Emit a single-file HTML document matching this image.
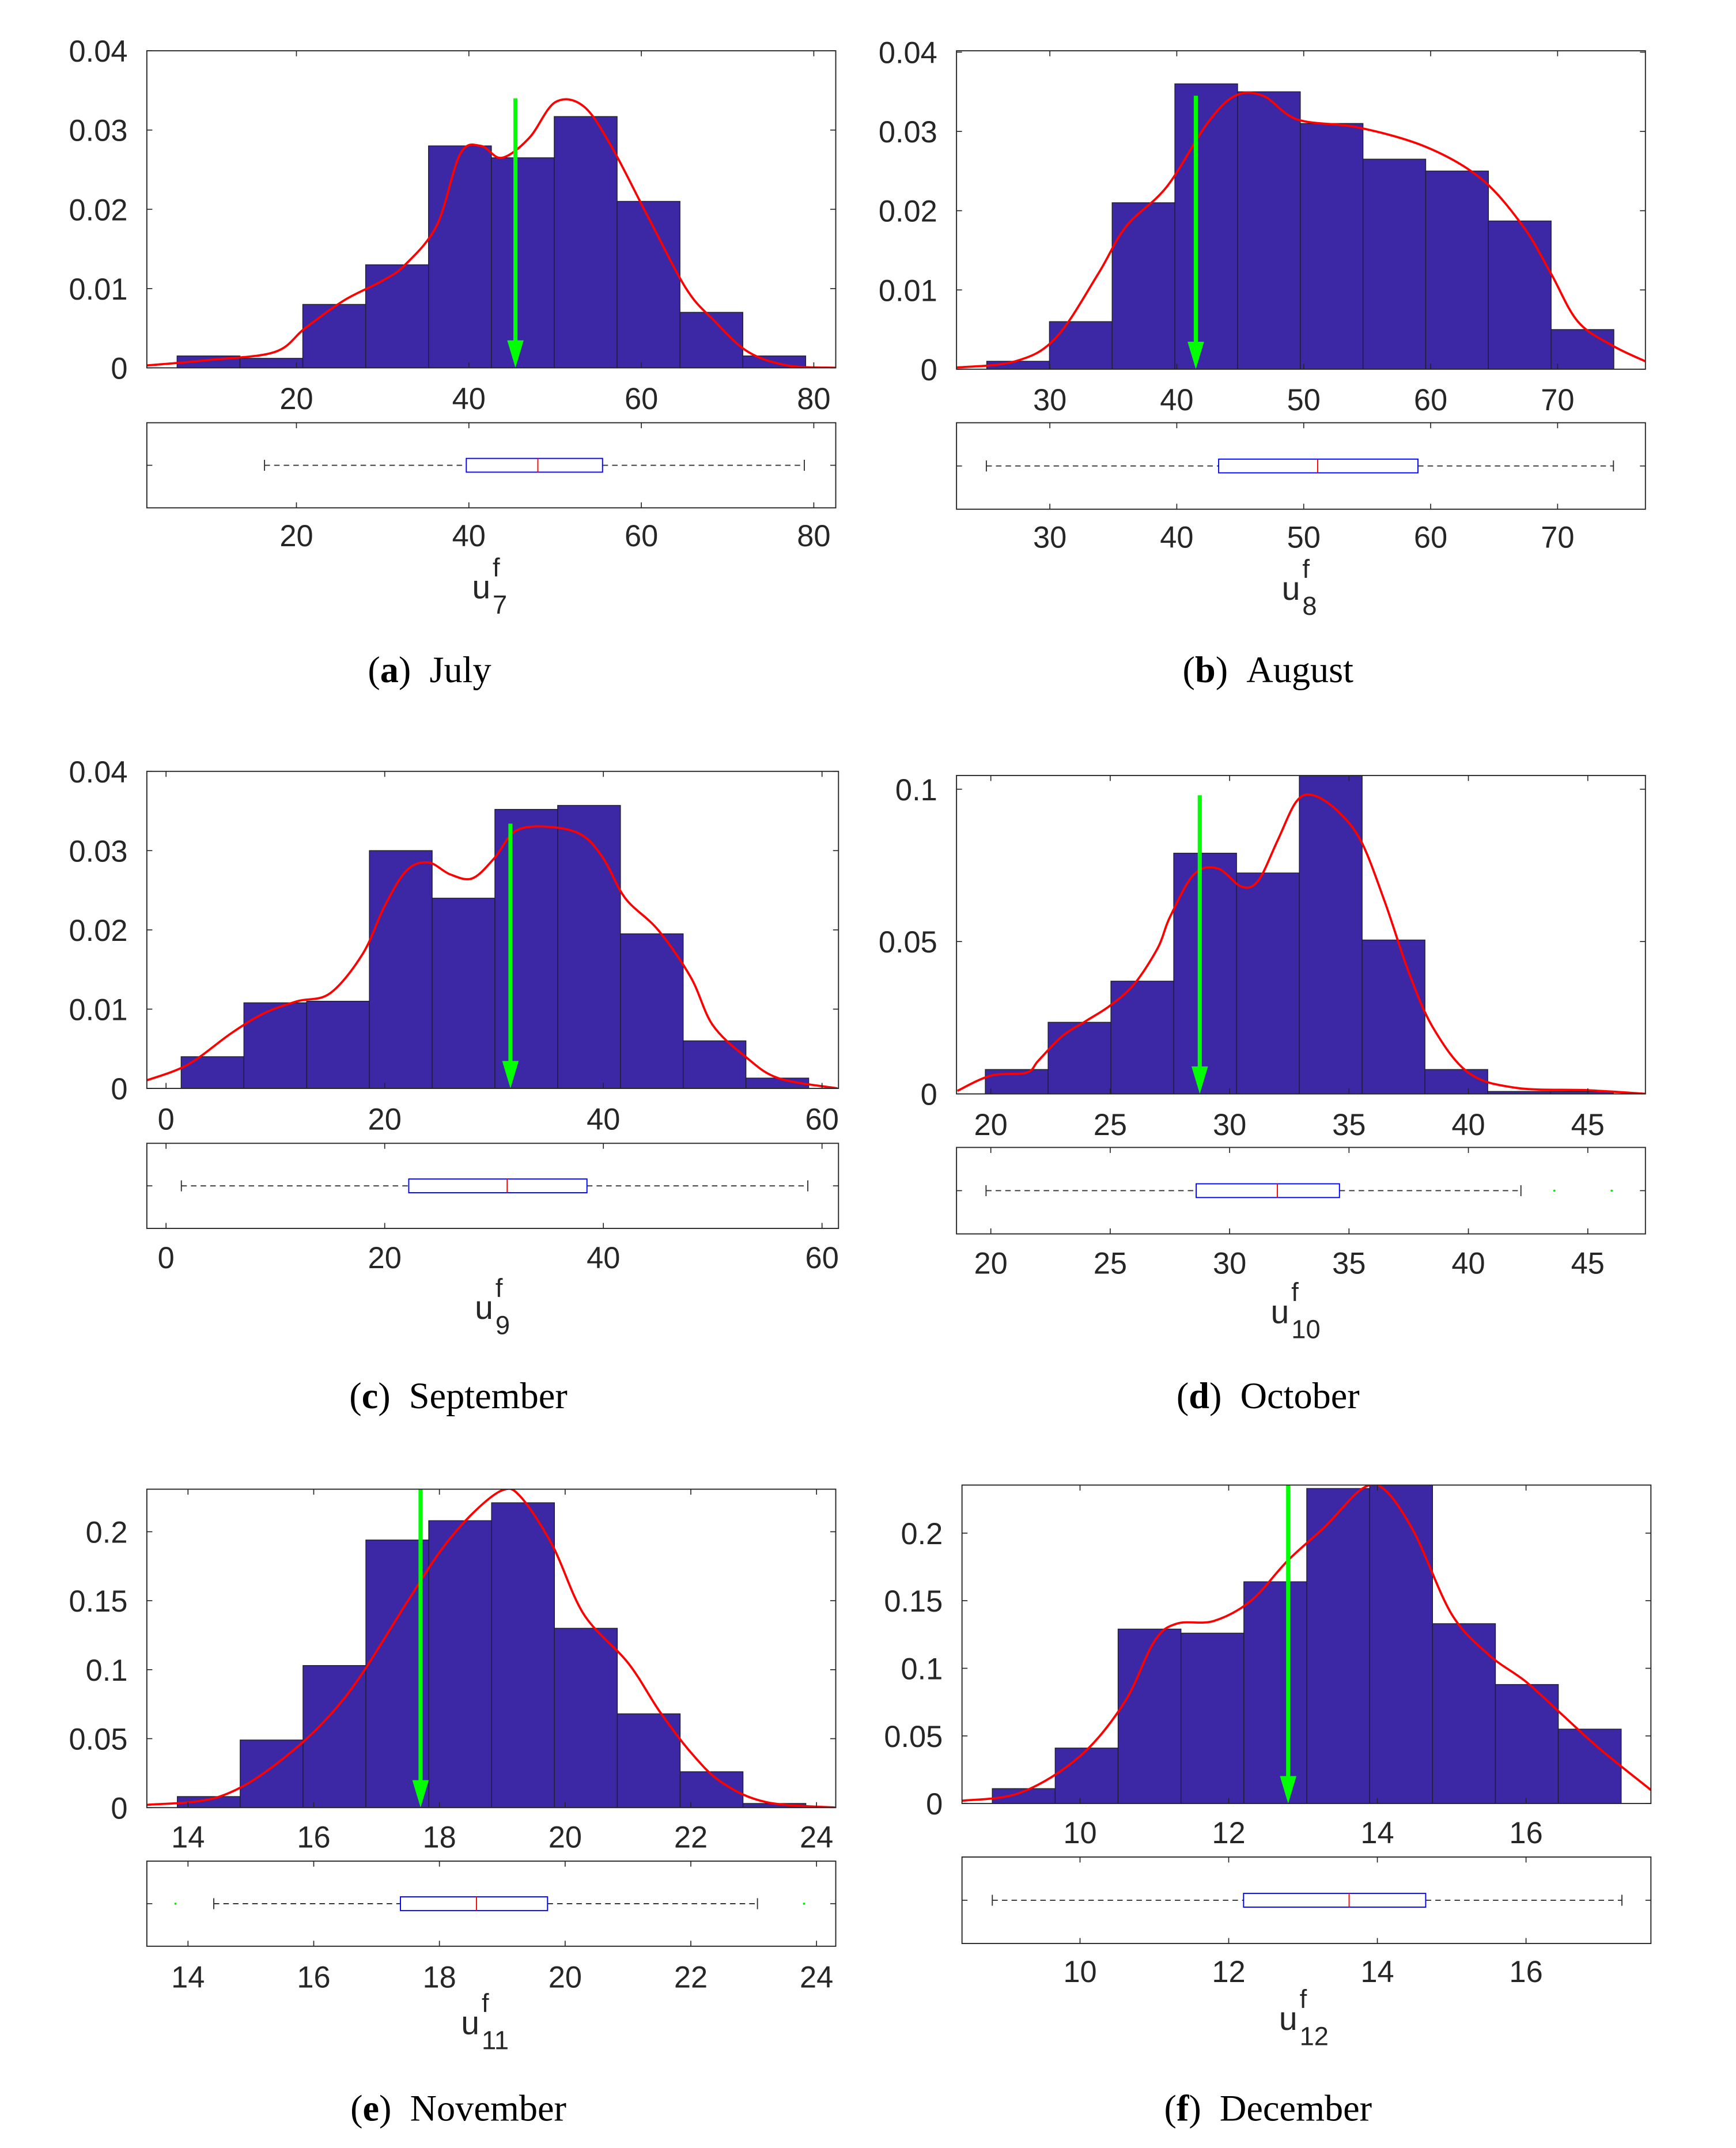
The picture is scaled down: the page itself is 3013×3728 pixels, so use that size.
<!DOCTYPE html>
<html><head><meta charset="utf-8">
<style>
html,body{margin:0;padding:0;background:#fff;}
svg{display:block;}
.tk{font-family:"Liberation Sans Narrow","Liberation Sans",sans-serif;font-size:22px;fill:#262626;}
.cap{font-family:"Liberation Serif",serif;font-size:27px;fill:#000;}
</style></head>
<body>
<svg id="fig" xmlns="http://www.w3.org/2000/svg" width="3013" height="3728" viewBox="0 0 1265 1565" preserveAspectRatio="none"></svg>
<script>
// ---------- data: (a) July ----------
const julyBinStart = 6.16, julyBinWidth = 7.29;
const julyHeights = [0.0015,0.0012,0.008,0.013,0.028,0.0265,0.0317,0.021,0.007,0.0015];
const julyKdeX = [2.6,10,17.5,21,25.5,30,32.6,36.3,39,41.4,43.8,47,50,53.3,56.5,60.8,65.2,68.4,72.4,77,82.6];
const julyKdeY = [0.0003,0.001,0.002,0.005,0.0085,0.011,0.013,0.018,0.027,0.028,0.0265,0.029,0.0335,0.033,0.028,0.019,0.01,0.006,0.002,0.0003,0];
const julyBox = [16.3,39.7,48,55.5,78.9];
const julyObs = 45.4, julyObsTop = 0.034;
const julyXTicks = [20,40,60,80];
const julyYTicks = [0,0.01,0.02,0.03,0.04];
// ---------- (b) August ----------
const augBinStart = 25.03, augBinWidth = 4.94;
const augHeights = [0.001,0.006,0.021,0.036,0.035,0.031,0.0265,0.025,0.0187,0.005];
const augKdeX = [22.6,27.3,30.5,33.8,36,39.2,42.4,44.6,46.8,49.5,54.3,59.7,64,67.3,69.5,71.6,74.3,76.9];
const augKdeY = [0.0002,0.001,0.004,0.012,0.018,0.023,0.031,0.0345,0.0345,0.0315,0.0305,0.028,0.024,0.018,0.012,0.006,0.003,0.001];
const augBox = [25.0,43.3,51.1,59.0,74.4];
const augObs = 41.5, augObsTop = 0.0345;
const augXTicks = [30,40,50,60,70];
const augYTicks = [0,0.01,0.02,0.03,0.04];
// ---------- (c) September ----------
const sepBinStart = 1.38, sepBinWidth = 5.74;
const sepHeights = [0.004,0.0108,0.011,0.030,0.024,0.0352,0.0357,0.0195,0.006,0.0013];
const sepKdeX = [-1.8,2,6,9,12,15,18,20,22,24,26,28,30,32,35,38,40,42,45,48,50,53,56,61.4];
const sepKdeY = [0.001,0.003,0.007,0.0095,0.011,0.012,0.017,0.023,0.0275,0.0285,0.027,0.0265,0.029,0.0325,0.033,0.032,0.029,0.024,0.02,0.014,0.008,0.004,0.0013,0];
const sepBox = [1.4,22.2,31.2,38.5,58.7];
const sepObs = 31.5, sepObsTop = 0.0334;
const sepXTicks = [0,20,40,60];
const sepYTicks = [0,0.01,0.02,0.03,0.04];
// ---------- (d) October ----------
const octBinStart = 19.77, octBinWidth = 2.63;
const octHeights = [0.008,0.0235,0.037,0.079,0.0725,0.1045,0.0505,0.008,0.0008,0.0008];
const octKdeX = [18.6,20,21.5,22,23,24,25,26,27,27.5,28.5,29.5,30.5,31.2,32,32.8,33.5,34.5,35.5,36.5,37.5,38.5,40,42,45,47.5];
const octKdeY = [0.001,0.006,0.007,0.011,0.019,0.024,0.029,0.036,0.048,0.058,0.072,0.074,0.068,0.07,0.083,0.096,0.098,0.093,0.083,0.063,0.04,0.022,0.007,0.002,0.0012,0];
const octBox = [19.8,28.6,32.0,34.6,42.2];
const octObs = 28.75, octObsTop = 0.098;
const octXTicks = [20,25,30,35,40,45];
const octYTicks = [0,0.05,0.1];
// ---------- (e) November ----------
const novBinStart = 13.83, novBinWidth = 1.0;
const novHeights = [0.008,0.049,0.103,0.194,0.208,0.221,0.13,0.068,0.026,0.003];
const novKdeX = [13.35,14.5,15.5,16.5,17.5,18,18.5,19,19.3,19.8,20.3,21,21.5,22,22.5,23.2,24.3];
const novKdeY = [0.002,0.008,0.035,0.08,0.15,0.185,0.212,0.23,0.225,0.19,0.14,0.105,0.07,0.04,0.018,0.004,0];
const novBox = [14.41,17.38,18.59,19.72,23.06];
const novObs = 17.7, novObsTop = 0.231;
const novXTicks = [14,16,18,20,22,24];
const novYTicks = [0,0.05,0.1,0.15,0.2];
// ---------- (f) December ----------
const decBinStart = 8.82, decBinWidth = 0.846;
const decHeights = [0.011,0.041,0.129,0.126,0.164,0.233,0.236,0.133,0.088,0.055];
const decKdeX = [8.41,9.2,10,10.6,11,11.3,11.8,12.3,12.8,13.3,13.8,14.1,14.5,15,15.5,16,16.5,17,17.68];
const decKdeY = [0.002,0.008,0.035,0.075,0.12,0.133,0.135,0.15,0.18,0.205,0.233,0.232,0.2,0.14,0.11,0.09,0.065,0.04,0.01];
const decBox = [8.82,12.2,13.62,14.65,17.29];
const decObs = 12.8, decObsTop = 0.236;
const decXTicks = [10,12,14,16];
const decYTicks = [0,0.05,0.1,0.15,0.2];

const NS = "http://www.w3.org/2000/svg";
const svg = document.getElementById('fig');
function mk(tag, attrs, parent){
  const e = document.createElementNS(NS, tag);
  for (const k in attrs) e.setAttribute(k, attrs[k]);
  (parent||svg).appendChild(e);
  return e;
}
function fmt(v){ return String(+v.toFixed(3)); }
function smooth(P){
  let d = 'M' + P[0][0].toFixed(1) + ',' + P[0][1].toFixed(1);
  for (let i = 0; i < P.length-1; i++){
    const p0 = P[Math.max(0,i-1)], p1 = P[i], p2 = P[i+1], p3 = P[Math.min(P.length-1,i+2)];
    const c1x = p1[0] + (p2[0]-p0[0])/6, c1y = p1[1] + (p2[1]-p0[1])/6;
    const c2x = p2[0] - (p3[0]-p1[0])/6, c2y = p2[1] - (p3[1]-p1[1])/6;
    d += ' C' + c1x.toFixed(1)+','+c1y.toFixed(1)+' '+c2x.toFixed(1)+','+c2y.toFixed(1)+' '+p2[0].toFixed(1)+','+p2[1].toFixed(1);
  }
  return d;
}

const panels = [
 {id:'july', lab:'a', name:'July', sub:'7', bs:julyBinStart, bw:julyBinWidth, h:julyHeights, kx:julyKdeX, ky:julyKdeY, box:julyBox, obs:julyObs, obsTop:julyObsTop, xt:julyXTicks, yt:julyYTicks,
  L:107,R:609,T:37,B:268, xA:[20,216], xB:[80,593], yTopVal:0.04, bT:308,bB:370, xlY:290, bxlY:390, uX:344, uY:430, capX:313, capY:488, outl:[]},
 {id:'august', lab:'b', name:'August', sub:'8', bs:augBinStart, bw:augBinWidth, h:augHeights, kx:augKdeX, ky:augKdeY, box:augBox, obs:augObs, obsTop:augObsTop, xt:augXTicks, yt:augYTicks,
  L:697,R:1199,T:37,B:269, xA:[30,765], xB:[70,1135], yTopVal:0.04*(269-37)/(269-38), bT:308,bB:371, xlY:291, bxlY:391, uX:934, uY:431, capX:924, capY:488, outl:[]},
 {id:'september', lab:'c', name:'September', sub:'9', bs:sepBinStart, bw:sepBinWidth, h:sepHeights, kx:sepKdeX, ky:sepKdeY, box:sepBox, obs:sepObs, obsTop:sepObsTop, xt:sepXTicks, yt:sepYTicks,
  L:107,R:611,T:562,B:793, xA:[0,121], xB:[60,599], yTopVal:0.04, bT:833,bB:895, xlY:815, bxlY:916, uX:346, uY:955, capX:334, capY:1017, outl:[]},
 {id:'october', lab:'d', name:'October', sub:'10', bs:octBinStart, bw:octBinWidth, h:octHeights, kx:octKdeX, ky:octKdeY, box:octBox, obs:octObs, obsTop:octObsTop, xt:octXTicks, yt:octYTicks,
  L:697,R:1199,T:565,B:797, xA:[20,722], xB:[45,1157], yTopVal:0.1*(797-565)/(797-575), bT:836,bB:899, xlY:819, bxlY:920, uX:926, uY:958, capX:924, capY:1017, outl:[43.6,46]},
 {id:'november', lab:'e', name:'November', sub:'11', bs:novBinStart, bw:novBinWidth, h:novHeights, kx:novKdeX, ky:novKdeY, box:novBox, obs:novObs, obsTop:novObsTop, xt:novXTicks, yt:novYTicks,
  L:107,R:609,T:1085,B:1317, xA:[14,137], xB:[24,595], yTopVal:0.2*(1317-1085)/(1317-1116), bT:1356,bB:1418, xlY:1338, bxlY:1440, uX:336, uY:1476, capX:334, capY:1536, outl:[13.8,23.8]},
 {id:'december', lab:'f', name:'December', sub:'12', bs:decBinStart, bw:decBinWidth, h:decHeights, kx:decKdeX, ky:decKdeY, box:decBox, obs:decObs, obsTop:decObsTop, xt:decXTicks, yt:decYTicks,
  L:701,R:1203,T:1082,B:1314, xA:[10,787], xB:[16,1112], yTopVal:0.2*(1314-1082)/(1314-1117), bT:1353,bB:1416, xlY:1335, bxlY:1436, uX:932, uY:1473, capX:924, capY:1536, outl:[]}
];

panels.forEach(p => {
  const g = mk('g', {});
  
  
  const sx = (p.xB[1]-p.xA[1])/(p.xB[0]-p.xA[0]);
  const X = v => p.xA[1] + (v - p.xA[0])*sx;
  const Y = v => p.B - v/p.yTopVal*(p.B-p.T);
  const clipId = 'clip-' + p.id;
  const cp = mk('clipPath', {id:clipId}, g);
  mk('rect', {x:p.L, y:p.T, width:p.R-p.L, height:p.B-p.T}, cp);
  mk('rect', {x:p.L, y:p.T, width:p.R-p.L, height:p.B-p.T, fill:'#fff'}, g);
  p.h.forEach((hv,i) => {
    const x0 = X(p.bs + i*p.bw), x1 = X(p.bs + (i+1)*p.bw);
    const yv = Math.min(hv, p.yTopVal);
    const r = mk('rect', {x:x0, y:Y(yv), width:x1-x0, height:p.B-Y(yv), fill:'#3c28a4', stroke:'#1e1e2e', 'stroke-width':0.6}, g);
    
    
  });
  const P = p.kx.map((xv,i) => [X(xv), Y(p.ky[i])]);
  const kde = mk('path', {d:smooth(P), fill:'none', stroke:'#ff0000', 'stroke-width':1.6, 'stroke-linejoin':'round', 'clip-path':'url(#'+clipId+')'}, g);
  
  
  const ax = X(p.obs);
  const arTop = Math.max(p.T, Y(p.obsTop));
  const arr = mk('g', {}, g);
  
  
  mk('line', {x1:ax, y1:arTop, x2:ax, y2:p.B-18, stroke:'#00ff00', 'stroke-width':3}, arr);
  mk('polygon', {points:(ax-6)+','+(p.B-20)+' '+(ax+6)+','+(p.B-20)+' '+ax+','+p.B, fill:'#00ff00'}, arr);
  const fr = mk('rect', {x:p.L, y:p.T, width:p.R-p.L, height:p.B-p.T, fill:'none', stroke:'#262626', 'stroke-width':0.8}, g);
  
  
  p.xt.forEach(t => {
    const x = X(t);
    mk('line', {x1:x, y1:p.B, x2:x, y2:p.B-4, stroke:'#262626', 'stroke-width':0.7}, g);
    mk('line', {x1:x, y1:p.T, x2:x, y2:p.T+4, stroke:'#262626', 'stroke-width':0.7}, g);
    const tl = mk('text', {x:x, y:p.xlY+8, 'text-anchor':'middle', class:'tk'}, g);
    tl.textContent = fmt(t);
    
    
    mk('line', {x1:x, y1:p.bT, x2:x, y2:p.bT+4, stroke:'#262626', 'stroke-width':0.7}, g);
    mk('line', {x1:x, y1:p.bB, x2:x, y2:p.bB-4, stroke:'#262626', 'stroke-width':0.7}, g);
    const bl = mk('text', {x:x, y:p.bxlY+8, 'text-anchor':'middle', class:'tk'}, g);
    bl.textContent = fmt(t);
    
    
  });
  p.yt.forEach(t => {
    const y = Y(t);
    mk('line', {x1:p.L, y1:y, x2:p.L+4, y2:y, stroke:'#262626', 'stroke-width':0.7}, g);
    mk('line', {x1:p.R, y1:y, x2:p.R-4, y2:y, stroke:'#262626', 'stroke-width':0.7}, g);
    const tl = mk('text', {x:p.L-14, y:y+8, 'text-anchor':'end', class:'tk'}, g);
    tl.textContent = fmt(t);
    
    
  });
  const bf = mk('rect', {x:p.L, y:p.bT, width:p.R-p.L, height:p.bB-p.bT, fill:'none', stroke:'#262626', 'stroke-width':0.8}, g);
  
  
  const cy = (p.bT+p.bB)/2;
  mk('line', {x1:p.L, y1:cy, x2:p.L+4, y2:cy, stroke:'#262626', 'stroke-width':0.7}, g);
  mk('line', {x1:p.R, y1:cy, x2:p.R-4, y2:cy, stroke:'#262626', 'stroke-width':0.7}, g);
  const [wl,q1,md,q3,wh] = p.box;
  mk('line', {x1:X(wl), y1:cy, x2:X(q1), y2:cy, stroke:'#333', 'stroke-width':0.8, 'stroke-dasharray':'4,3'}, g);
  mk('line', {x1:X(q3), y1:cy, x2:X(wh), y2:cy, stroke:'#333', 'stroke-width':0.8, 'stroke-dasharray':'4,3'}, g);
  mk('line', {x1:X(wl), y1:cy-4, x2:X(wl), y2:cy+4, stroke:'#333', 'stroke-width':0.8}, g);
  mk('line', {x1:X(wh), y1:cy-4, x2:X(wh), y2:cy+4, stroke:'#333', 'stroke-width':0.8}, g);
  const bx = mk('rect', {x:X(q1), y:cy-5, width:X(q3)-X(q1), height:10, fill:'none', stroke:'#0000ff', 'stroke-width':0.8}, g);
  
  
  mk('line', {x1:X(md), y1:cy-5, x2:X(md), y2:cy+5, stroke:'#ff0000', 'stroke-width':0.8}, g);
  p.outl.forEach(o => { mk('circle', {cx:X(o), cy:cy, r:0.8, fill:'#00ee00'}, g); });
  const u = mk('text', {x:p.uX, y:p.uY+6, 'text-anchor':'start', class:'tk', style:'font-size:24px'}, g);
  u.textContent = 'u';
  
  
  const sup = mk('text', {x:p.uX+15, y:p.uY-10, class:'tk', style:'font-size:19px'}, g);
  sup.textContent = 'f';
  
  
  const sb = mk('text', {x:p.uX+15, y:p.uY+17, class:'tk', style:'font-size:19px'}, g);
  sb.textContent = p.sub;
  
  
  const cap = mk('text', {x:p.capX, y:p.capY+9, 'text-anchor':'middle', class:'cap'}, g);
  
  
  const t1 = mk('tspan', {}, cap); t1.textContent = '(';
  const t2 = mk('tspan', {'font-weight':'bold'}, cap); t2.textContent = p.lab;
  const t3 = mk('tspan', {}, cap); t3.textContent = ')\u2002' + p.name;
});
</script>
</body></html>
